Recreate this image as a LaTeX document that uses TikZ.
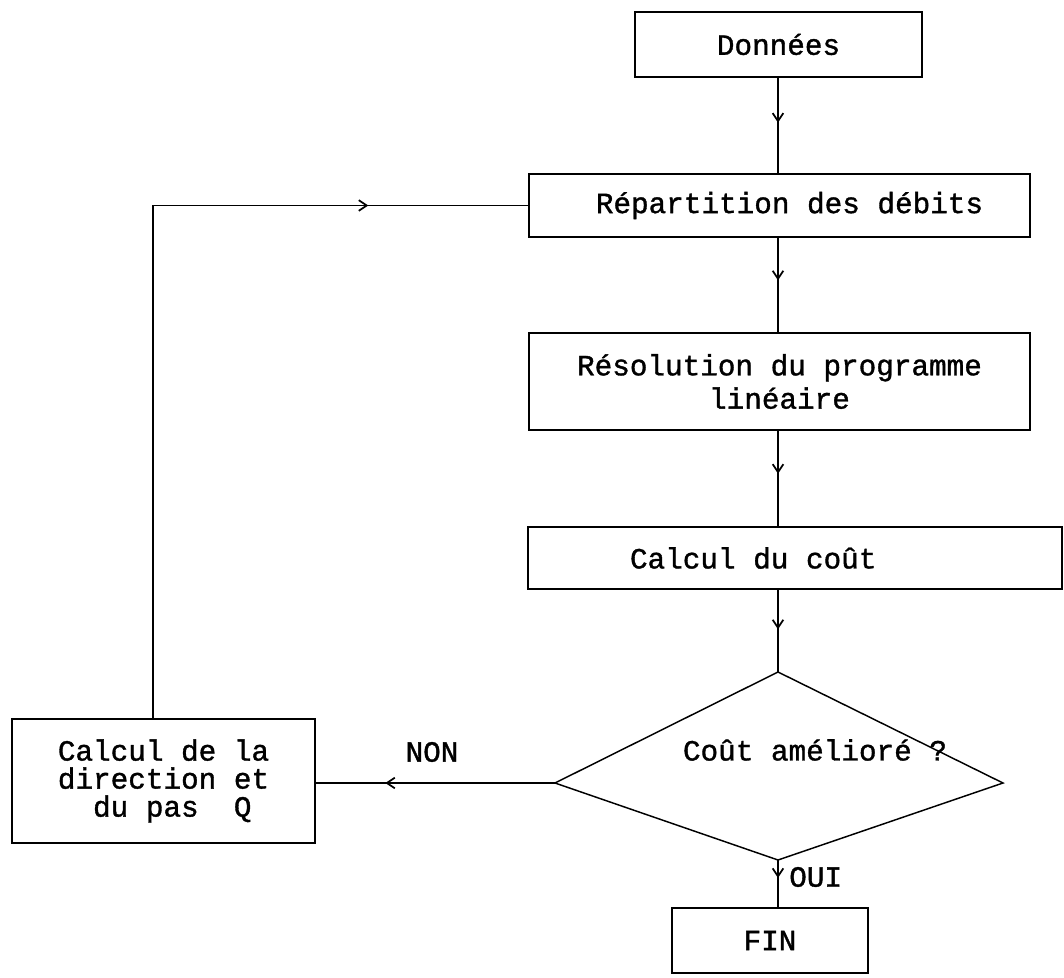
\documentclass[tikz,border=0pt]{standalone}
\usepackage{fontspec}
\setmainfont{Liberation Mono}[BoldFont=Liberation Mono, BoldFeatures={FakeBold=1.2}]
\usetikzlibrary{decorations.markings,arrows.meta}
\tikzset{
  box/.style={draw, line width=1.4pt, rectangle, inner sep=0pt, font=\fontsize{22}{25}\selectfont\bfseries},
  flow/.style={line width=1.2pt},
  midarrow/.style={postaction={decorate,decoration={markings,
      mark=at position #1 with {\arrow{Straight Barb[length=6pt,width=8pt,line width=1.3pt]}}}}},
  lbl/.style={inner sep=0pt, font=\fontsize{22}{25}\selectfont\bfseries},
}
\begin{document}
\begin{tikzpicture}[x=0.75pt,y=-0.75pt]
\useasboundingbox (0,0) rectangle (1064,978);

% process boxes
\node[box, minimum width=215.25pt, minimum height=48.75pt] (don) at (778.5,44.5) {Données};
\node[box, minimum width=375.75pt, minimum height=47.25pt] (rep) at (779.5,205.5)
  {\hspace*{15pt}Répartition des débits};
\node[box, minimum width=375.75pt, minimum height=72.75pt, align=center] (res) at (779.5,381.5)
  {Résolution du programme\\linéaire};
\node[box, minimum width=400.5pt, minimum height=46.5pt] (cout) at (795,558)
  {\makebox[247.5pt][l]{Calcul du coût}};
\node[box, minimum width=147pt, minimum height=48.75pt] (fin) at (770,940.5) {FIN};
\node[box, minimum width=227.25pt, minimum height=93pt, align=left,
  font=\fontsize{22}{21}\selectfont\bfseries] (dir) at (163.5,781)
  {Calcul de la\\direction et\\~~du pas~~Q};

% decision diamond
\coordinate (dt) at (778,672);
\coordinate (dl) at (555,783);
\coordinate (dr) at (1003,783);
\coordinate (db) at (778,860);
\draw[line width=1.1pt, line join=miter] (dt) -- (dr) -- (db) -- (dl) -- cycle;
\node[lbl] (q) at (815,750) {Coût amélioré ?};

% connectors
\draw[flow, midarrow=0.47] (don.south -| dt) -- (rep.north -| dt);
\draw[flow, midarrow=0.45] (rep.south -| dt) -- (res.north -| dt);
\draw[flow, midarrow=0.45] (res.south -| dt) -- (cout.north -| dt);
\draw[flow, midarrow=0.48] (cout.south -| dt) -- (dt);
\draw[flow, midarrow=0.38] (db) -- (fin.north -| db);
\draw[flow, midarrow=0.71] (dl) -- (dl -| dir.east);
\draw[flow, midarrow=0.82] (dir.north -| 153,0) |- (rep.west);

% branch labels
\node[lbl] (non) at (432,752) {NON};
\node[lbl, anchor=west] (oui) at (789,877) {OUI};
\end{tikzpicture}
\end{document}
